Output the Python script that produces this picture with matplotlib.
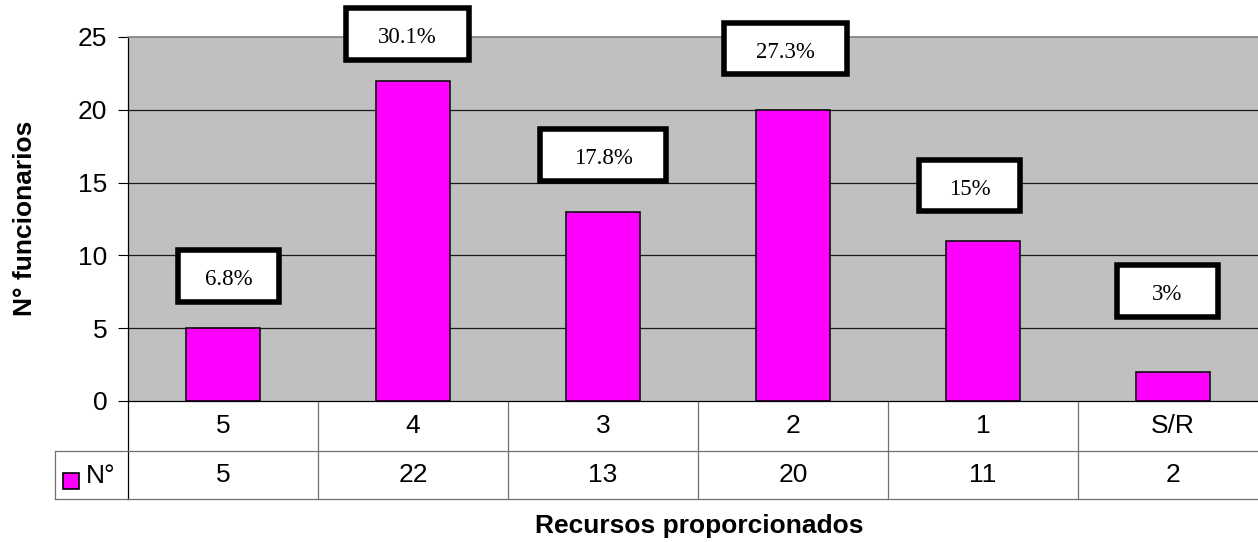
import matplotlib
matplotlib.use("Agg")
import matplotlib.pyplot as plt
import matplotlib.patches as mpatches
from matplotlib.transforms import blended_transform_factory
import numpy as np

plt.rcParams['font.family'] = ['Liberation Sans', 'DejaVu Sans']

# datos
categorias = ['5', '4', '3', '2', '1', 'S/R']
funcionarios = [5, 22, 13, 20, 11, 2]
porcentajes = ['6.8%', '30.1%', '17.8%', '27.3%', '15%', '3%']

# posición de las etiquetas (movidas a mano en el original)
etiq_dx = [0.03, -0.03, 0.0, -0.04, -0.07, -0.03]
etiq_y = [8.6, 25.2, 16.9, 24.2, 14.8, 7.55]
etiq_ancho = [0.53, 0.65, 0.66, 0.65, 0.53, 0.53]
etiq_alto = 3.55

W, H = 1258, 542
fig = plt.figure(figsize=(W / 100, H / 100), dpi=100)

def fx(px):
    return px / W

def fy(py):
    return (H - py) / H

# el área del gráfico se sale un poco por la derecha, como en el original
ax = fig.add_axes([fx(128), fy(401), 1140 / W, (401 - 37) / H])
ax.set_facecolor('#C0C0C0')

x = np.arange(len(categorias))
ax.bar(x, funcionarios, width=0.39, color='#FF00FF', edgecolor='black',
       linewidth=1.1, zorder=3)

ax.set_xlim(-0.5, len(categorias) - 0.5)
ax.set_ylim(0, 25)
ax.set_yticks(range(0, 26, 5))
ax.set_xticks([])
ax.tick_params(axis='y', labelsize=19, length=7, width=0.8, pad=8)
for v in range(5, 25, 5):
    ax.axhline(v, color='#1a1a1a', linewidth=0.9, zorder=1)

ax.spines['top'].set_color('#808080')
ax.spines['top'].set_linewidth(1.2)
ax.spines['right'].set_visible(False)
ax.spines['left'].set_linewidth(0.9)
ax.spines['bottom'].set_linewidth(0.9)

# etiquetas de porcentaje con recuadro grueso
for i, txt in enumerate(porcentajes):
    cx = i + etiq_dx[i]
    rect = mpatches.Rectangle((cx - etiq_ancho[i] / 2, etiq_y[i] - etiq_alto / 2),
                              etiq_ancho[i], etiq_alto, facecolor='white',
                              edgecolor='black', linewidth=4, zorder=5,
                              clip_on=False)
    ax.add_patch(rect)
    ax.text(cx, etiq_y[i] - 0.25, txt, ha='center', va='center', fontsize=16.5,
            family=['Liberation Serif', 'DejaVu Serif'], zorder=6, clip_on=False)

# tabla de datos bajo el eje
tr = blended_transform_factory(ax.transData, fig.transFigure)
y_top, y_mid, y_bot = fy(401), fy(451), fy(499)
gris = '#707070'
for b in np.arange(0.5, len(categorias) - 0.5, 1):
    ax.plot([b, b], [y_top, y_bot], color=gris, lw=0.9, transform=tr, clip_on=False)
ax.plot([-0.5, -0.5], [y_top, y_bot], color='black', lw=0.9, transform=tr, clip_on=False)
ax.plot([-0.5, len(categorias)], [y_mid, y_mid], color=gris, lw=0.9, transform=tr, clip_on=False)
ax.plot([-0.5, len(categorias)], [y_bot, y_bot], color=gris, lw=0.9, transform=tr, clip_on=False)

# celda de leyenda
fig.add_artist(plt.Line2D([fx(55), fx(128)], [y_mid, y_mid], color=gris, lw=0.9))
fig.add_artist(plt.Line2D([fx(55), fx(128)], [y_bot, y_bot], color=gris, lw=0.9))
fig.add_artist(plt.Line2D([fx(55), fx(55)], [y_mid, y_bot], color=gris, lw=0.9))
fig.add_artist(mpatches.Rectangle((fx(63), fy(489)), 16 / W, 16 / H,
                                  facecolor='#FF00FF', edgecolor='black',
                                  linewidth=1.2, transform=fig.transFigure))
fig.text(fx(86), fy(476), 'N°', fontsize=19, ha='left', va='center')

for i in range(len(categorias)):
    ax.text(i, (y_top + y_mid) / 2, categorias[i], ha='center', va='center',
            fontsize=19, transform=tr)
    ax.text(i, (y_mid + y_bot) / 2, str(funcionarios[i]), ha='center', va='center',
            fontsize=19, transform=tr)

fig.text(fx(699), fy(533), 'Recursos proporcionados', fontsize=19,
         fontweight='bold', ha='center', va='baseline')
fig.text(fx(25), fy(218), 'N° funcionarios', fontsize=19, fontweight='bold',
         rotation=90, ha='center', va='center')

fig.savefig('out.png', dpi=100)
